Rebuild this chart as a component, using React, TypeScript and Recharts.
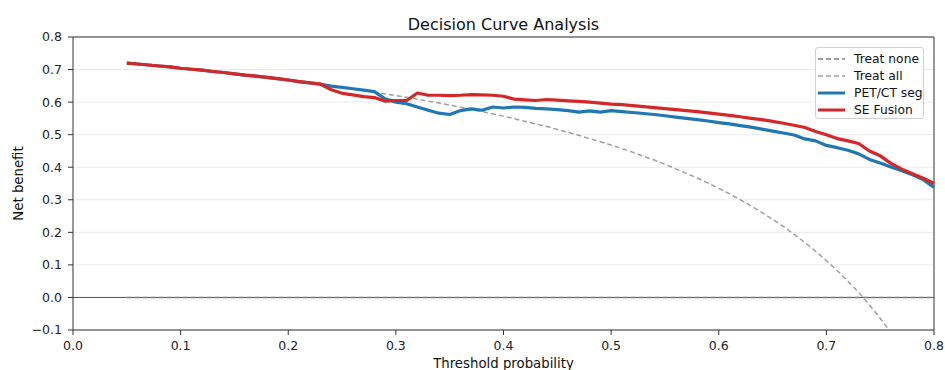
import React from 'react';
import { LineChart, Line, XAxis, YAxis, CartesianGrid, ReferenceLine } from 'recharts';

const thresholds = [
  0.05, 0.06, 0.07, 0.08, 0.09, 0.1, 0.11, 0.12, 0.13, 0.14, 0.15, 0.16, 0.17, 0.18, 0.19, 0.2,
  0.21, 0.22, 0.23, 0.24, 0.25, 0.26, 0.27, 0.28, 0.29, 0.3, 0.31, 0.32, 0.33, 0.34, 0.35, 0.36,
  0.37, 0.38, 0.39, 0.4, 0.41, 0.42, 0.43, 0.44, 0.45, 0.46, 0.47, 0.48, 0.49, 0.5, 0.51, 0.52,
  0.53, 0.54, 0.55, 0.56, 0.57, 0.58, 0.59, 0.6, 0.61, 0.62, 0.63, 0.64, 0.65, 0.66, 0.67, 0.68,
  0.69, 0.7, 0.71, 0.72, 0.73, 0.74, 0.75, 0.76, 0.77, 0.78, 0.79, 0.8,
];

const treatAll = [
  0.72, 0.717, 0.714, 0.711, 0.708, 0.704, 0.701, 0.698, 0.694, 0.691, 0.687, 0.683, 0.68, 0.676, 0.672, 0.668,
  0.663, 0.659, 0.655, 0.65, 0.645, 0.641, 0.636, 0.631, 0.625, 0.62, 0.615, 0.609, 0.603, 0.597, 0.591, 0.584,
  0.578, 0.571, 0.564, 0.557, 0.549, 0.541, 0.533, 0.525, 0.516, 0.507, 0.498, 0.488, 0.478, 0.468, 0.457, 0.446,
  0.434, 0.422, 0.409, 0.395, 0.381, 0.367, 0.351, 0.335, 0.318, 0.3, 0.281, 0.261, 0.24, 0.218, 0.194, 0.169,
  0.142, 0.113, 0.083, 0.05, 0.015, -0.023, -0.064, -0.108, -0.157, -0.209, -0.267, -0.33,
];

const treatNone = thresholds.map(() => 0);

const petctSeg = [
  0.72, 0.717, 0.714, 0.711, 0.708, 0.704, 0.701, 0.698, 0.694, 0.691, 0.687, 0.683, 0.68, 0.676, 0.672, 0.668,
  0.663, 0.659, 0.655, 0.649, 0.645, 0.641, 0.637, 0.632, 0.61, 0.6, 0.595, 0.585, 0.575, 0.566, 0.562, 0.574,
  0.579, 0.575, 0.585, 0.582, 0.585, 0.584, 0.581, 0.579, 0.577, 0.574, 0.569, 0.573, 0.569, 0.574, 0.571, 0.568,
  0.565, 0.562, 0.558, 0.554, 0.55, 0.546, 0.542, 0.537, 0.533, 0.528, 0.523, 0.517, 0.511, 0.505, 0.499, 0.487,
  0.481, 0.467, 0.46, 0.452, 0.441, 0.424, 0.413, 0.401, 0.389, 0.377, 0.362, 0.338,
];

const seFusion = [
  0.72, 0.717, 0.714, 0.711, 0.708, 0.704, 0.701, 0.698, 0.694, 0.691, 0.687, 0.683, 0.68, 0.676, 0.672, 0.668,
  0.663, 0.659, 0.655, 0.638, 0.627, 0.622, 0.617, 0.614, 0.603, 0.605, 0.605, 0.628, 0.621, 0.621, 0.62, 0.621,
  0.623, 0.622, 0.621, 0.618, 0.609, 0.607, 0.605, 0.608, 0.606, 0.604, 0.602, 0.6, 0.597, 0.594, 0.592, 0.589,
  0.586, 0.583, 0.58, 0.577, 0.574, 0.571, 0.567, 0.563, 0.559, 0.555, 0.55, 0.546, 0.541, 0.535, 0.529, 0.522,
  0.51, 0.5, 0.488, 0.481, 0.473, 0.45, 0.435, 0.412, 0.394, 0.38, 0.366, 0.35,
];

const xTicks = [0, 0.1, 0.2, 0.3, 0.4, 0.5, 0.6, 0.7, 0.8];
const yTicks = [-0.1, 0, 0.1, 0.2, 0.3, 0.4, 0.5, 0.6, 0.7, 0.8];

const legendItems = [
  { name: 'Treat none', color: '#808080', dash: true, width: 1.5 },
  { name: 'Treat all', color: '#a0a0a0', dash: true, width: 1.5 },
  { name: 'PET/CT seg', color: '#1f77b4', dash: false, width: 3 },
  { name: 'SE Fusion', color: '#d62728', dash: false, width: 3 },
];

const data = thresholds.map((t, i) => ({
  t,
  none: treatNone[i],
  all: treatAll[i],
  pet: petctSeg[i],
  se: seFusion[i],
}));

const font = '"DejaVu Sans", sans-serif';
const fmt = (v: number) => (v < 0 ? '\u2212' + Math.abs(v).toFixed(1) : v.toFixed(1));

export default function App() {
  return (
    <div style={{ position: 'absolute', left: 0, top: 0, width: 945, height: 370, fontFamily: font, background: '#fff' }}>
      <div
        style={{
          position: 'absolute',
          left: 73,
          width: 861,
          top: 15,
          textAlign: 'center',
          fontSize: 16,
          color: '#111',
          lineHeight: '19px',
          whiteSpace: 'nowrap',
        }}
      >
        Decision Curve Analysis
      </div>
      <LineChart width={945} height={370} data={data} margin={{ top: 37, right: 11, bottom: 0, left: 0 }}>
        <CartesianGrid vertical={false} stroke="#ebebeb" strokeWidth={1} />
        <XAxis
          type="number"
          dataKey="t"
          domain={[0, 0.8]}
          ticks={xTicks}
          tickFormatter={fmt}
          height={40}
          stroke="#333"
          tickSize={5}
          tickMargin={6}
          tick={{ fill: '#222', fontSize: 12.5, fontFamily: font }}
          label={{ value: 'Threshold probability', position: 'insideBottom', offset: 2, fill: '#111', fontSize: 13.3, fontFamily: font }}
        />
        <YAxis
          type="number"
          domain={[-0.1, 0.8]}
          ticks={yTicks}
          allowDataOverflow
          tickFormatter={fmt}
          width={73}
          stroke="#333"
          tickSize={5}
          tickMargin={6}
          tick={{ fill: '#222', fontSize: 12.5, fontFamily: font }}
          label={{
            value: 'Net benefit',
            angle: -90,
            position: 'insideLeft',
            offset: 18,
            fill: '#111',
            fontSize: 13.3,
            fontFamily: font,
            style: { textAnchor: 'middle' },
          }}
        />
        <ReferenceLine y={0.8} stroke="#333" strokeWidth={1} />
        <ReferenceLine x={0.8} stroke="#333" strokeWidth={1} />
        <ReferenceLine y={0} stroke="#555" strokeWidth={1} />
        <Line dataKey="none" stroke="#808080" strokeWidth={1.5} strokeDasharray="5 3" dot={false} isAnimationActive={false} />
        <Line dataKey="all" stroke="#a0a0a0" strokeWidth={1.5} strokeDasharray="5 3" dot={false} isAnimationActive={false} />
        <Line dataKey="pet" stroke="#1f77b4" strokeWidth={3.2} dot={false} isAnimationActive={false} strokeLinejoin="round" />
        <Line dataKey="se" stroke="#d62728" strokeWidth={3.2} dot={false} isAnimationActive={false} strokeLinejoin="round" />
      </LineChart>
      <div
        style={{
          position: 'absolute',
          left: 815,
          top: 47,
          width: 109,
          height: 72,
          boxSizing: 'border-box',
          border: '1px solid #d0d0d0',
          borderRadius: 3,
          background: 'rgba(255,255,255,0.85)',
          paddingTop: 2,
        }}
      >
        {legendItems.map((it) => (
          <div key={it.name} style={{ display: 'flex', alignItems: 'center', height: 17, fontSize: 12.3, color: '#111' }}>
            <svg width={38} height={10} style={{ flex: 'none' }}>
              <line
                x1={2}
                x2={29}
                y1={5}
                y2={5}
                stroke={it.color}
                strokeWidth={it.width}
                strokeDasharray={it.dash ? '5 3' : undefined}
              />
            </svg>
            <span style={{ whiteSpace: 'nowrap' }}>{it.name}</span>
          </div>
        ))}
      </div>
    </div>
  );
}
